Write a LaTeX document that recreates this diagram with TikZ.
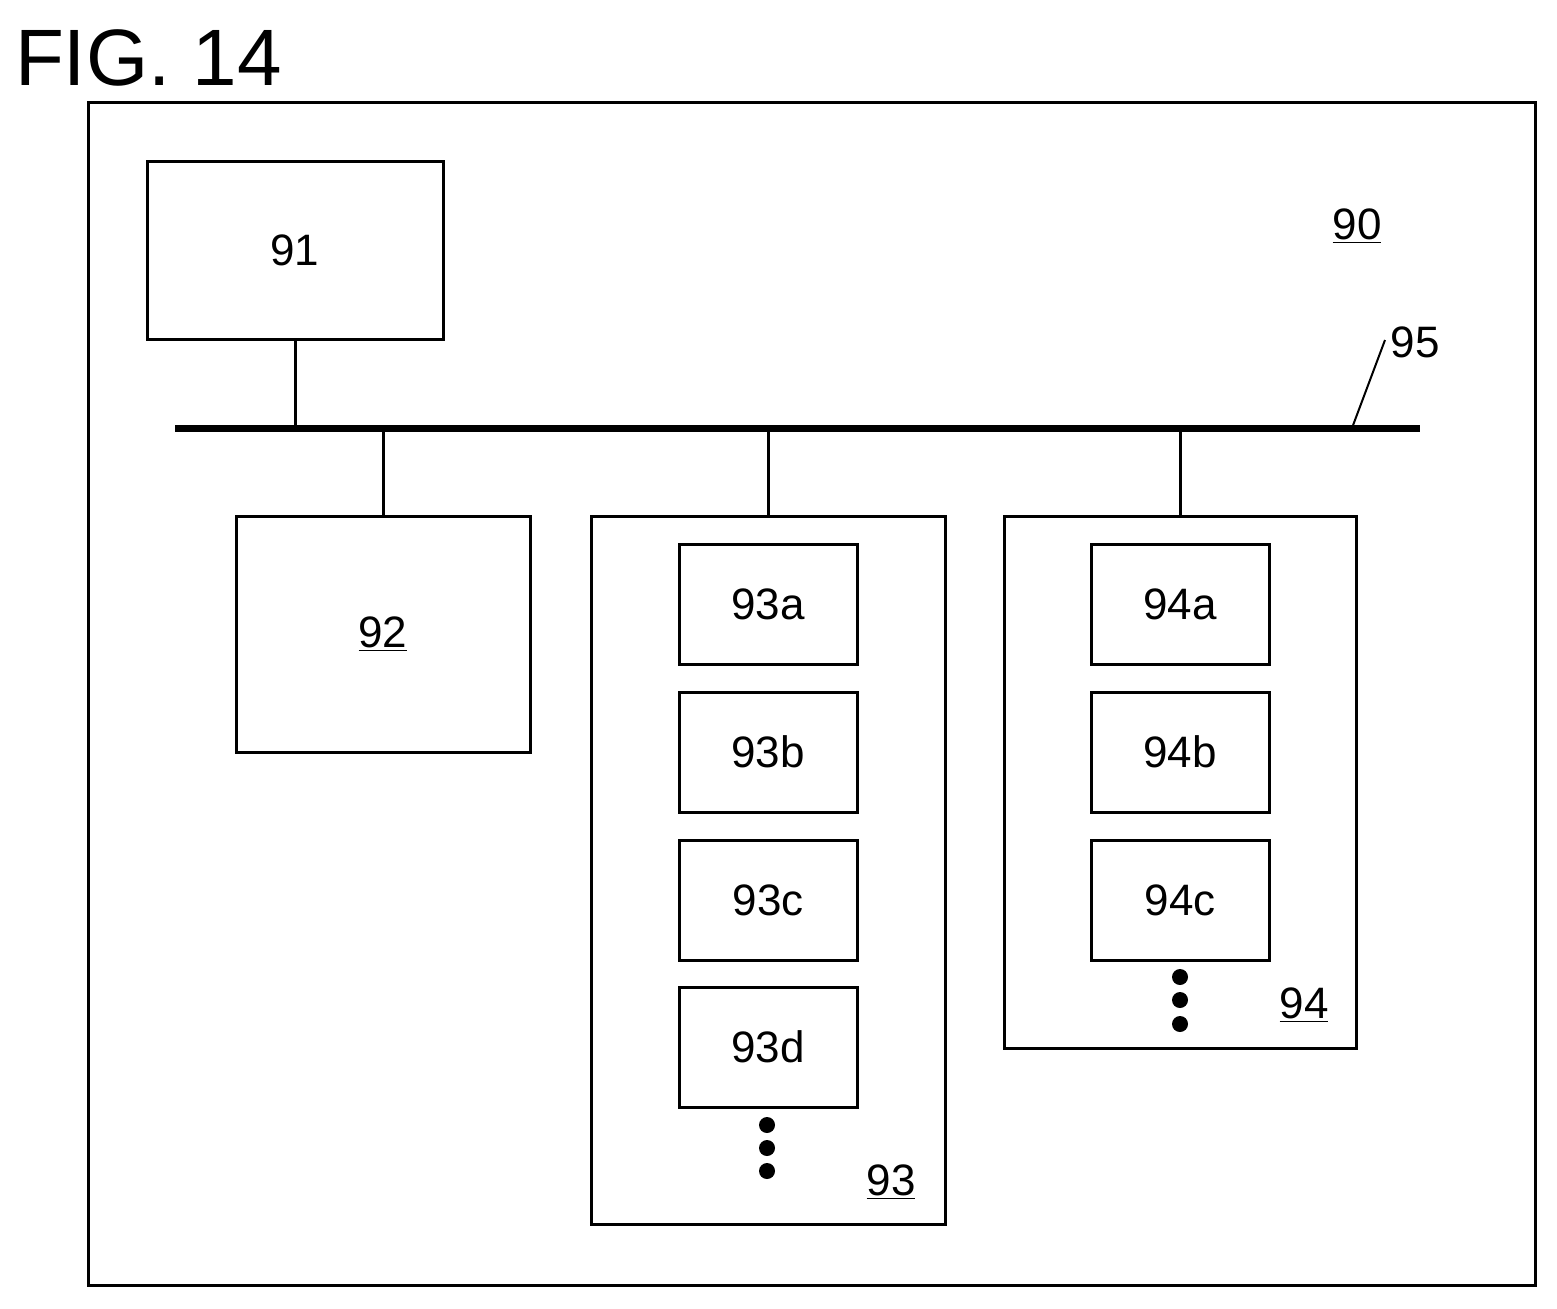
\documentclass[tikz,border=0pt]{standalone}
\usepackage{fontspec}
\setmainfont{Liberation Sans}
\begin{document}
\begin{tikzpicture}[x=0.5pt,y=-0.5pt,
    box/.style={draw,line width=1.5pt,inner sep=0pt,font=\fontsize{22}{24}\selectfont},
    unit/.style={box,minimum width=89pt,minimum height=60pt},
    lbl/.style={font=\fontsize{22}{24}\selectfont},
    dot/.style={circle,fill,inner sep=0pt,minimum size=8pt}]

    \useasboundingbox (0,0) rectangle (1557,1308);

    % Titolo e cornice
    \node[anchor=west,font=\fontsize{40}{44}\selectfont] (fig) at (8,58) {FIG. 14};
    \draw[line width=1.5pt] (88,102) rectangle (1535,1285);
    \node[lbl] (l90) at (1357,226) {\underline{90}};

    % Bus
    \coordinate (busL) at (175,428);
    \coordinate (busR) at (1420,428);
    \draw[line width=3.5pt] (busL) -- (busR);
    \node[lbl] (l95) at (1415,342) {95};
    \coordinate (b95) at (1352,428);
    \draw[line width=1pt] (1385,340) -- (b95);

    % Blocchi
    \node[box,minimum width=148pt,minimum height=89pt] (n91) at (295,250) {91};
    \node[box,minimum width=147pt,minimum height=118pt] (n92) at (383,634) {\underline{92}};
    \node[box,minimum width=177pt,minimum height=354pt] (n93) at (768,870) {};
    \node[box,minimum width=176pt,minimum height=266pt] (n94) at (1180,782) {};

    % Collegamenti al bus
    \foreach \n in {n91,n92,n93,n94}
        \draw[line width=1.5pt] (\n) -- (\n |- busL);

    % Unita interne
    \foreach \s/\y in {a/604,b/752,c/900,d/1047}
        \node[unit] (u93\s) at (768,\y) {93\s};
    \foreach \s/\y in {a/604,b/752,c/900}
        \node[unit] (u94\s) at (1180,\y) {94\s};

    % Puntini
    \foreach \y [count=\i] in {1125,1148,1171}
        \node[dot] (d93\i) at (767,\y) {};
    \foreach \y [count=\i] in {977,1000,1024}
        \node[dot] (d94\i) at (1180,\y) {};

    \node[lbl] (l93) at (891,1182) {\underline{93}};
    \node[lbl] (l94) at (1304,1005) {\underline{94}};

\end{tikzpicture}
\end{document}
